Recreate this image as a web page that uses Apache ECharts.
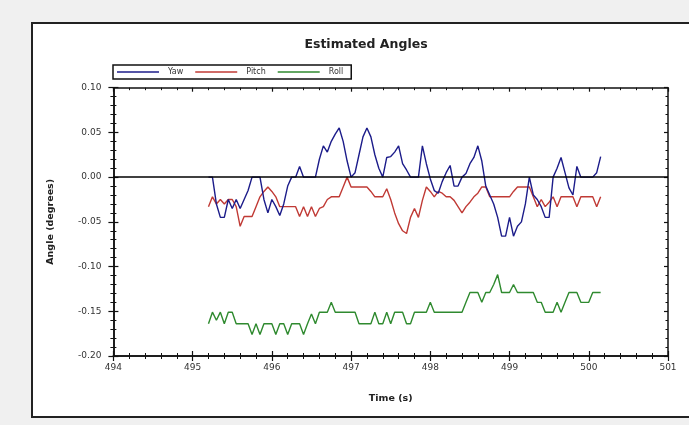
<!DOCTYPE html>
<html>
<head>
<meta charset="utf-8">
<script src="https://cdn.jsdelivr.net/npm/echarts@6/dist/echarts.min.js"></script>
<style>
  html, body { margin: 0; padding: 0; background: #f0f0f0; }
  #wrap { position: relative; width: 689px; height: 425px; overflow: hidden; background: #f0f0f0; }
  #panel { position: absolute; left: 31px; top: 22px; width: 700px; height: 392px; background: #fff; border: 2px solid #222; }
  #chart { position: absolute; left: 0; top: 0; width: 689px; height: 425px; }
</style>
</head>
<body>
<div id="wrap">
  <div id="panel"></div>
  <div id="chart"></div>
</div>
<script>
// Sample times (s)
const times = [
  495.20,495.25,495.30,495.35,495.40,495.45,495.50,495.55,495.60,495.65,
  495.70,495.75,495.80,495.85,495.90,495.95,496.00,496.05,496.10,496.15,
  496.20,496.25,496.30,496.35,496.40,496.45,496.50,496.55,496.60,496.65,
  496.70,496.75,496.80,496.85,496.90,496.95,497.00,497.05,497.10,497.15,
  497.20,497.25,497.30,497.35,497.40,497.45,497.50,497.55,497.60,497.65,
  497.70,497.75,497.80,497.85,497.90,497.95,498.00,498.05,498.10,498.15,
  498.20,498.25,498.30,498.35,498.40,498.45,498.50,498.55,498.60,498.65,
  498.70,498.75,498.80,498.85,498.90,498.95,499.00,499.05,499.10,499.15,
  499.20,499.25,499.30,499.35,499.40,499.45,499.50,499.55,499.60,499.65,
  499.70,499.75,499.80,499.85,499.90,499.95,500.00,500.05,500.10,500.15
];
const yaw = [
  0.000,0.000,-0.030,-0.045,-0.045,-0.025,-0.035,-0.025,-0.035,-0.025,
  -0.015,0.000,0.000,0.000,-0.025,-0.040,-0.025,-0.033,-0.043,-0.030,
  -0.010,0.000,0.000,0.012,0.000,0.000,0.000,0.000,0.020,0.035,
  0.028,0.040,0.048,0.055,0.040,0.018,0.000,0.005,0.025,0.045,
  0.055,0.045,0.025,0.010,0.000,0.022,0.023,0.028,0.035,0.015,
  0.008,0.000,0.000,0.000,0.035,0.015,-0.002,-0.015,-0.018,-0.005,
  0.005,0.013,-0.010,-0.010,0.000,0.004,0.015,0.022,0.035,0.018,
  -0.010,-0.020,-0.030,-0.045,-0.066,-0.066,-0.045,-0.066,-0.055,-0.050,
  -0.030,0.000,-0.020,-0.025,-0.033,-0.045,-0.045,0.000,0.010,0.022,
  0.005,-0.012,-0.020,0.012,0.000,0.000,0.000,0.000,0.005,0.023
];
const pitch = [
  -0.033,-0.022,-0.030,-0.025,-0.030,-0.025,-0.025,-0.033,-0.055,-0.044,
  -0.044,-0.044,-0.033,-0.022,-0.016,-0.011,-0.016,-0.022,-0.033,-0.033,
  -0.033,-0.033,-0.033,-0.044,-0.033,-0.044,-0.033,-0.044,-0.035,-0.033,
  -0.025,-0.022,-0.022,-0.022,-0.011,0.000,-0.011,-0.011,-0.011,-0.011,
  -0.011,-0.016,-0.022,-0.022,-0.022,-0.013,-0.025,-0.040,-0.052,-0.060,
  -0.063,-0.045,-0.035,-0.045,-0.026,-0.011,-0.016,-0.022,-0.016,-0.018,
  -0.022,-0.022,-0.026,-0.033,-0.040,-0.033,-0.028,-0.022,-0.018,-0.011,
  -0.011,-0.022,-0.022,-0.022,-0.022,-0.022,-0.022,-0.016,-0.011,-0.011,
  -0.011,-0.011,-0.022,-0.033,-0.025,-0.033,-0.028,-0.022,-0.033,-0.022,
  -0.022,-0.022,-0.022,-0.033,-0.022,-0.022,-0.022,-0.022,-0.033,-0.022
];
const roll = [
  -0.164,-0.151,-0.160,-0.151,-0.164,-0.151,-0.151,-0.164,-0.164,-0.164,
  -0.164,-0.176,-0.164,-0.176,-0.164,-0.164,-0.164,-0.176,-0.164,-0.164,
  -0.176,-0.164,-0.164,-0.164,-0.176,-0.164,-0.153,-0.164,-0.151,-0.151,
  -0.151,-0.140,-0.151,-0.151,-0.151,-0.151,-0.151,-0.151,-0.164,-0.164,
  -0.164,-0.164,-0.151,-0.164,-0.164,-0.151,-0.164,-0.151,-0.151,-0.151,
  -0.164,-0.164,-0.151,-0.151,-0.151,-0.151,-0.140,-0.151,-0.151,-0.151,
  -0.151,-0.151,-0.151,-0.151,-0.151,-0.140,-0.129,-0.129,-0.129,-0.140,
  -0.129,-0.129,-0.120,-0.109,-0.129,-0.129,-0.129,-0.120,-0.129,-0.129,
  -0.129,-0.129,-0.129,-0.140,-0.140,-0.151,-0.151,-0.151,-0.140,-0.151,
  -0.140,-0.129,-0.129,-0.129,-0.140,-0.140,-0.140,-0.129,-0.129,-0.129
];
const seriesNames = ['Yaw', 'Pitch', 'Roll'];
const seriesColors = ['#1c1c8a', '#c03a35', '#2f8a2f'];
const xTicks = [494, 495, 496, 497, 498, 499, 500, 501];
const yTicks = [-0.20, -0.15, -0.10, -0.05, 0.00, 0.05, 0.10];

const pair = vals => times.map((t, i) => [t, vals[i]]);
const FONT = 'DejaVu Sans, Verdana, sans-serif';
const axisLine = { show: true, onZero: false, lineStyle: { color: '#111', width: 1.5 } };
const tick = (inside, len) => ({ show: true, inside: inside, length: len, lineStyle: { color: '#111', width: 1.2 } });

function xa(extra) {
  return Object.assign({
    type: 'value', min: xTicks[0], max: xTicks[xTicks.length - 1], interval: 1,
    axisLine: axisLine, splitLine: { show: false },
    axisTick: tick(false, 4),
    minorTick: { show: true, splitNumber: 5, length: 3, lineStyle: { color: '#111', width: 1 } },
    axisLabel: { show: false }
  }, extra);
}
function ya(extra) {
  return Object.assign({
    type: 'value', min: yTicks[0], max: yTicks[yTicks.length - 1], interval: 0.05,
    axisLine: axisLine, splitLine: { show: false },
    axisTick: tick(false, 4),
    minorTick: { show: true, splitNumber: 5, length: 3, lineStyle: { color: '#111', width: 1 } },
    axisLabel: { show: false }
  }, extra);
}

const chart = echarts.init(document.getElementById('chart'), null, { renderer: 'canvas' });
const option = {
  backgroundColor: 'transparent',
  animation: false,
  textStyle: { fontFamily: FONT },
  title: {
    text: 'Estimated Angles', left: 361, top: 33, textAlign: 'center',
    textStyle: { fontFamily: FONT, fontSize: 12.5, fontWeight: 'bold', color: '#222' }
  },
  legend: {
    data: seriesNames.map(n => ({ name: n, icon: 'rect' })),
    left: 113, top: 65, orient: 'horizontal',
    borderColor: '#111', borderWidth: 1.5, padding: [3, 8, 3, 4],
    itemWidth: 42, itemHeight: 1.5, itemGap: 12,
    textStyle: { fontFamily: FONT, fontSize: 8, color: '#333', padding: [0, 0, 0, 4] }
  },
  grid: { left: 113.4, right: 21, top: 87.7, bottom: 69, containLabel: false },
  xAxis: [
    xa({
      position: 'bottom', axisTick: tick(false, 5),
      axisLabel: { show: true, margin: 7, fontFamily: FONT, fontSize: 9, color: '#333', formatter: v => String(v) },
      name: 'Time (s)', nameLocation: 'middle', nameGap: 38,
      nameTextStyle: { fontFamily: FONT, fontSize: 9.5, fontWeight: 'bold', color: '#222' }
    }),
    xa({ position: 'bottom', axisTick: tick(true, 5) }),
    xa({ position: 'top', axisTick: tick(true, 4), minorTick: { show: true, splitNumber: 5, length: 2.5, lineStyle: { color: '#111', width: 1 } } })
  ],
  yAxis: [
    ya({
      position: 'left', axisTick: tick(false, 5),
      axisLabel: { show: true, margin: 12, fontFamily: FONT, fontSize: 9, color: '#333', formatter: v => v.toFixed(2) },
      name: 'Angle (degrees)', nameLocation: 'middle', nameGap: 58,
      nameTextStyle: { fontFamily: FONT, fontSize: 9.5, fontWeight: 'bold', color: '#222' }
    }),
    ya({ position: 'left', axisTick: tick(true, 5) }),
    ya({ position: 'right', axisTick: tick(true, 4), minorTick: { show: true, splitNumber: 5, length: 2.5, lineStyle: { color: '#111', width: 1 } } })
  ],
  series: [yaw, pitch, roll].map((vals, k) => ({
    name: seriesNames[k], type: 'line', data: pair(vals),
    xAxisIndex: 0, yAxisIndex: 0,
    symbol: 'none', smooth: false,
    lineStyle: { color: seriesColors[k], width: 1.4 },
    itemStyle: { color: seriesColors[k] },
    z: 3 - k,
    markLine: k === 0 ? {
      silent: true, symbol: 'none', label: { show: false },
      lineStyle: { color: '#000', width: 1.6, type: 'solid' },
      data: [{ yAxis: 0 }]
    } : undefined
  }))
};
chart.setOption(option);
</script>
</body>
</html>
